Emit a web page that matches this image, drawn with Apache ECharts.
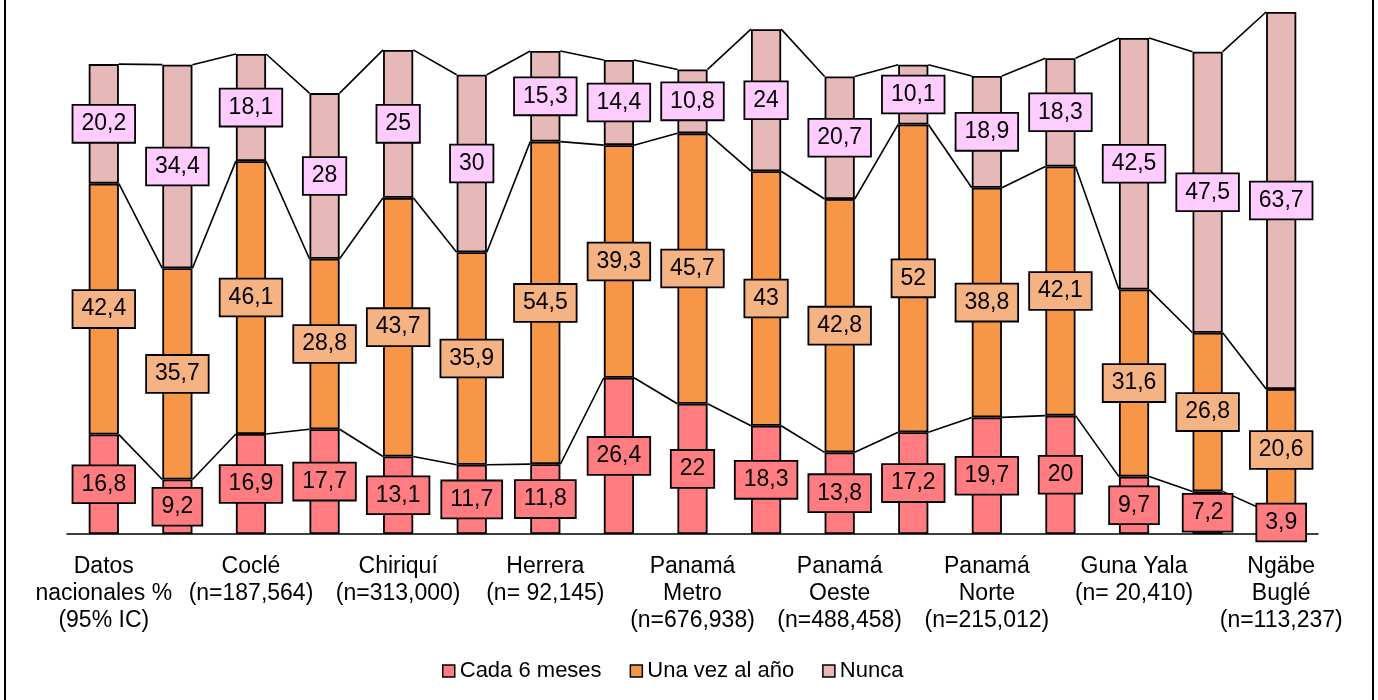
<!DOCTYPE html>
<html>
<head>
<meta charset="utf-8">
<script src="https://cdn.jsdelivr.net/npm/echarts@6/dist/echarts.min.js"></script>
<style>
html,body{margin:0;padding:0;background:#fff;}
#chart{width:1378px;height:700px;}
</style>
</head>
<body>
<div id="chart"></div>
<script>
// Group labels (one per pair of bars; the second bar of each pair is unlabeled)
const groupLabels = [
  'Datos\nnacionales %\n(95% IC)',
  'Coclé\n(n=187,564)',
  'Chiriquí\n(n=313,000)',
  'Herrera\n(n= 92,145)',
  'Panamá\nMetro\n(n=676,938)',
  'Panamá\nOeste\n(n=488,458)',
  'Panamá\nNorte\n(n=215,012)',
  'Guna Yala\n(n= 20,410)',
  'Ngäbe\nBuglé\n(n=113,237)'
];
const seriesNames = ['Cada 6 meses', 'Una vez al año', 'Nunca'];
const cada6meses = [16.8, 9.2, 16.9, 17.7, 13.1, 11.7, 11.8, 26.4, 22, 18.3, 13.8, 17.2, 19.7, 20, 9.7, 7.2, 3.9];
const unaVezAlAnio = [42.4, 35.7, 46.1, 28.8, 43.7, 35.9, 54.5, 39.3, 45.7, 43, 42.8, 52, 38.8, 42.1, 31.6, 26.8, 20.6];
const nunca = [20.2, 34.4, 18.1, 28, 25, 30, 15.3, 14.4, 10.8, 24, 20.7, 10.1, 18.9, 18.3, 42.5, 47.5, 63.7];

// Build 17 distinct categories; only even indices get displayed (interval 1)
const categories = cada6meses.map((v, i) => i % 2 === 0 ? groupLabels[i / 2] : groupLabels[(i - 1) / 2] + ' ');

const barColors = ['#FF7C80', '#F79646', '#E6B9B8'];
const labelBg = ['#FF7C80', '#F5B282', '#FFCCFF'];
const seriesData = [cada6meses, unaVezAlAnio, nunca];

// cumulative tops for series lines
const cum1 = cada6meses.map(v => v);
const cum2 = cada6meses.map((v, i) => v + unaVezAlAnio[i]);
const cum3 = cada6meses.map((v, i) => v + unaVezAlAnio[i] + nunca[i]);
const connectorData = [];
for (let i = 0; i < categories.length - 1; i++) {
  connectorData.push([i, cum1[i], cum2[i], cum3[i], cum1[i + 1], cum2[i + 1], cum3[i + 1]]);
}

const FONT = '"Liberation Sans", Arial, sans-serif';
const barFrac = 0.41;

const chart = echarts.init(document.getElementById('chart'), null, {renderer: 'canvas'});

const barSeries = seriesData.map((d, k) => ({
  name: seriesNames[k],
  type: 'bar',
  stack: 'total',
  data: d,
  barWidth: (barFrac * 100) + '%',
  itemStyle: {color: barColors[k], borderColor: '#000', borderWidth: 1.8},
  z: 3,
  label: {
    show: true,
    position: 'inside',
    formatter: p => String(p.value).replace('.', ','),
    fontFamily: FONT,
    fontSize: 23,
    lineHeight: 24,
    color: '#000',
    backgroundColor: labelBg[k],
    borderColor: '#000',
    borderWidth: 1.8,
    padding: [6, 8, 6, 8]
  },
  emphasis: {disabled: true}
}));

const connectorSeries = {
  type: 'custom',
  silent: true,
  z: 2,
  encode: {x: 0, y: [1, 2, 3]},
  data: connectorData,
  renderItem: function (params, api) {
    const i = api.value(0);
    const half = api.size([1, 0])[0] * barFrac / 2;
    const children = [];
    for (let s = 0; s < 3; s++) {
      const a = api.coord([i, api.value(1 + s)]);
      const b = api.coord([i + 1, api.value(4 + s)]);
      children.push({
        type: 'line',
        shape: {x1: a[0] + half, y1: a[1], x2: b[0] - half, y2: b[1]},
        style: {stroke: '#000', lineWidth: 1.6}
      });
    }
    return {type: 'group', children: children};
  }
};

chart.setOption({
  animation: false,
  backgroundColor: '#fff',
  textStyle: {fontFamily: FONT},
  grid: {left: 67, right: 60, top: 12, bottom: 166, containLabel: false},
  legend: {
    data: seriesNames,
    left: 437,
    top: 655,
    itemWidth: 12,
    itemHeight: 12,
    itemGap: 28,
    icon: 'rect',
    textStyle: {fontFamily: FONT, fontSize: 22, color: '#000'},
    itemStyle: {borderColor: '#000', borderWidth: 1.5}
  },
  xAxis: {
    type: 'category',
    data: categories,
    axisLine: {show: true, lineStyle: {color: '#000', width: 1.5}},
    axisTick: {show: false},
    axisLabel: {
      interval: 1,
      fontFamily: FONT,
      fontSize: 23,
      lineHeight: 27,
      color: '#000',
      margin: 19,
      align: 'center'
    }
  },
  yAxis: {
    type: 'value',
    min: 0,
    max: function (v) { return v.max; },
    show: false,
    splitLine: {show: false}
  },
  graphic: [
    {type: 'line', shape: {x1: 5, y1: 0, x2: 5, y2: 700}, style: {stroke: '#000', lineWidth: 2}},
    {type: 'line', shape: {x1: 1373, y1: 0, x2: 1373, y2: 700}, style: {stroke: '#000', lineWidth: 2}}
  ],
  series: [...barSeries, connectorSeries]
});
</script>
</body>
</html>
